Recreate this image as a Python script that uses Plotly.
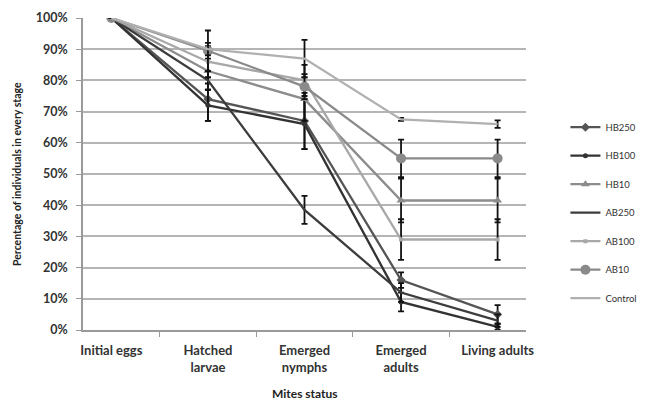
import plotly.graph_objects as go

stages = ["Initial eggs", "Hatched<br>larvae", "Emerged<br>nymphs", "Emerged<br>adults", "Living adults"]

hb250 = [100, 74, 67, 16, 5]
hb100 = [100, 72, 66, 9, 1]
hb10 = [100, 83, 74, 41.5, 41.5]
ab250 = [100, 80, 38.5, 12, 3]
ab100 = [100, 86, 80, 29, 29]
ab10 = [100, 89.5, 78, 55, 55]
control = [100, 90, 87, 67.5, 66]

hb250_err = [0, 7, 9, 2.5, 3]
hb100_err = [0, 5, 8, 3, 1]
hb10_err = [0, 4, 7, 7, 7]
ab250_err = [0, 3, 4.5, 3, 2]
ab100_err = [0, 5, 5, 6.5, 6.5]
ab10_err = [0, 6.5, 4, 6, 6]
control_err = [0, 2, 6, 0.5, 1.2]

series = [
    ("HB250", hb250, hb250_err, "#555555", "diamond", 7),
    ("HB100", hb100, hb100_err, "#333333", "circle", 5),
    ("HB10", hb10, hb10_err, "#8c8c8c", "triangle-up", 8),
    ("AB250", ab250, ab250_err, "#3c3c3c", None, 0),
    ("AB100", ab100, ab100_err, "#a8a8a8", "square", 4),
    ("AB10", ab10, ab10_err, "#8a8a8a", "circle", 10),
    ("Control", control, control_err, "#b0b0b0", None, 0),
]

fig = go.Figure()
for name, vals, err, col, sym, size in series:
    mode = "lines+markers" if sym else "lines"
    fig.add_trace(go.Scatter(
        x=stages, y=vals, name=name, mode=mode,
        line=dict(color=col, width=2.3),
        marker=dict(symbol=sym or "circle", size=size, color=col),
        error_y=dict(type="data", array=err, color="#111111", thickness=1.8, width=3),
        legendgroup=name,
    ))

# page has an 8px body margin, so the figure is sized/offset to compensate
fig.update_layout(
    width=644, height=392,
    margin=dict(l=75, r=119, t=10, b=70),
    paper_bgcolor="white", plot_bgcolor="white",
    font=dict(family="Lato", size=11, color="#333333"),
    showlegend=True,
    legend=dict(x=1.089, xanchor="left", y=0.376, yanchor="middle",
                font=dict(size=9.5, color="#333333"), tracegroupgap=9.5,
                itemwidth=30, bgcolor="rgba(0,0,0,0)"),
    xaxis=dict(
        automargin=False,
        showline=True, linecolor="#9a9a9a", linewidth=1.5,
        ticks="outside", tickson="boundaries", tickcolor="#9a9a9a", ticklen=5,
        showgrid=False, ticklabelstandoff=8,
        tickfont=dict(family="Lato", size=13, color="#333333", weight="bold"),
    ),
    yaxis=dict(
        automargin=False,
        range=[0, 100], dtick=10, ticksuffix="%",
        showline=True, linecolor="#9a9a9a", linewidth=1.5,
        ticks="outside", tickcolor="#9a9a9a", ticklen=5,
        showgrid=True, gridcolor="#b5b5b5", gridwidth=1.5,
        zeroline=False, ticklabelstandoff=6,
        tickfont=dict(family="Lato", size=12.5, color="#333333", weight="bold"),
    ),
    annotations=[
        dict(text="<b>Mites status</b>", xref="paper", yref="paper", x=0.5, y=-0.202,
             xanchor="center", yanchor="middle", showarrow=False,
             font=dict(family="Lato", size=12, color="#222222")),
        dict(text="<b>Percentage of individuals in every stage</b>", xref="paper", yref="paper",
             x=-0.149, y=0.5, xanchor="center", yanchor="middle", textangle=-90, showarrow=False,
             font=dict(family="Lato", size=10.5, color="#222222")),
    ],
)

fig.write_html("out.html")
